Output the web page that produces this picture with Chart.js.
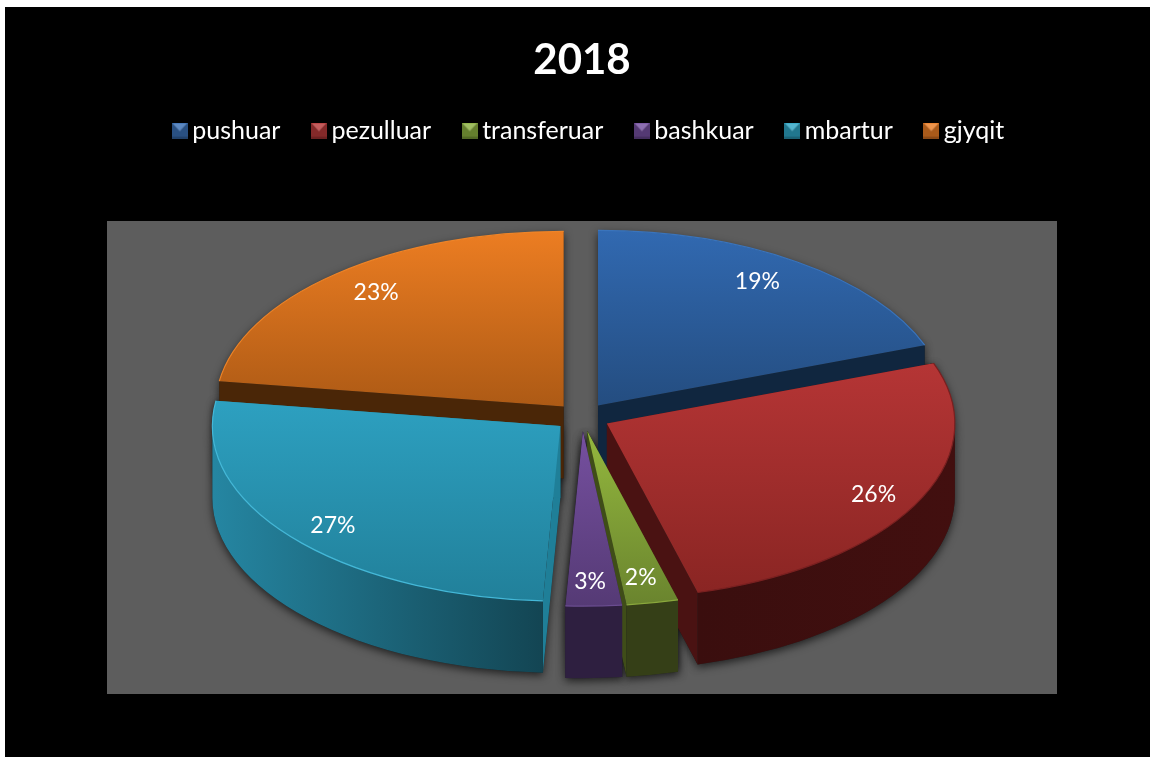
<!DOCTYPE html>
<html>
<head>
<meta charset="utf-8">
<style>html,body{margin:0;padding:0;background:#fff}canvas{display:block}</style>
<script src="https://cdn.jsdelivr.net/npm/chart.js@4/dist/chart.umd.min.js"></script>
</head>
<body>
<canvas id="c" width="1150" height="757"></canvas>
<script>
const titleText = '2018';
const categories = ['pushuar', 'pezulluar', 'transferuar', 'bashkuar', 'mbartur', 'gjyqit'];
const shares = [19.4, 26.4, 2.4, 2.6, 26.5, 22.7];

const topLight = ['#3169b1', '#b53535', '#94b83e', '#7650a0', '#2da0c0', '#ec7d22'];
const topDark  = ['#244d80', '#8a2523', '#6a842e', '#553a75', '#21809a', '#ad5a15'];
const faceCol  = ['#10263f', '#4a1212', '#3f4d18', '#2f2142', '#1f7f98', '#4a2607'];
const wallA    = ['#10263f', '#3a0e0e', '#353f17', '#2e1f40', '#2586a2', '#4a2607'];
const wallB    = ['#10263f', '#420f0f', '#353f17', '#2e1f40', '#134553', '#4a2607'];
const rimCol   = ['#3a74bc', '#7a2020', '#8aa83c', '#6a4c90', '#44b8d8', '#ee8428'];
const legendCol = ['#3a70b5', '#b83a3a', '#8cb040', '#7550a0', '#2fa5c5', '#ea7d25'];
const drawOrder = [0, 5, 1, 4, 2, 3];
const labelNudge = [[-10, -2], [4, 3], [-2, 1], [-2, 2], [1, 5], [6, -1]];

const panel = {left: 107, top: 221, right: 1057, bottom: 694, color: '#5d5d5d'};
const frame = {left: 5, top: 7, color: '#000'};
const tilt = 0.503, depth = 72, burst = 28, labelAt = 0.85, legendShift = 10;

function marker(c) {
  const s = 16, cv = document.createElement('canvas');
  cv.width = s; cv.height = s;
  const x = cv.getContext('2d');
  x.fillStyle = c; x.fillRect(0, 0, s, s);
  x.fillStyle = 'rgba(0,0,0,.28)';
  x.beginPath(); x.moveTo(0, s); x.lineTo(s, s); x.lineTo(s, 0); x.lineTo(s / 2, s / 2); x.lineTo(0, 0); x.closePath(); x.fill();
  x.fillStyle = 'rgba(0,0,0,.18)';
  x.fillRect(0, s - 2, s, 2);
  x.fillStyle = 'rgba(255,255,255,.18)';
  x.beginPath(); x.moveTo(1, 1); x.lineTo(s - 1, 1); x.lineTo(s / 2, s / 2 + 1); x.closePath(); x.fill();
  return cv;
}

class Pie3DController extends Chart.PieController {
  geometry() {
    return this.getMeta().data.map((el, i) => {
      const p = el.getProps(['x', 'y', 'startAngle', 'endAngle', 'outerRadius'], true);
      const mid = (p.startAngle + p.endAngle) / 2;
      const d = el.options.offset;
      const cx = p.x + Math.cos(mid) * d, cy = p.y + Math.sin(mid) * d * tilt;
      return {i, mid, cx, cy, r: p.outerRadius, a0: p.startAngle, a1: p.endAngle, d};
    });
  }
  draw() {
    const ctx = this.chart.ctx;
    const gs = this.geometry();
    const pt = (g, a, dz) => [g.cx + g.r * Math.cos(a), g.cy + g.r * tilt * Math.sin(a) + (dz || 0)];
    const top = (g) => {
      ctx.beginPath(); ctx.moveTo(g.cx, g.cy);
      ctx.ellipse(g.cx, g.cy, g.r, g.r * tilt, 0, g.a0, g.a1);
      ctx.closePath();
    };
    const face = (g, a) => {
      const p = pt(g, a);
      ctx.beginPath(); ctx.moveTo(g.cx, g.cy); ctx.lineTo(p[0], p[1]);
      ctx.lineTo(p[0], p[1] + depth); ctx.lineTo(g.cx, g.cy + depth); ctx.closePath();
    };
    const wall = (g) => {
      const s = Math.max(g.a0, 0), e = Math.min(g.a1, Math.PI);
      if (e <= s) return false;
      ctx.beginPath();
      ctx.ellipse(g.cx, g.cy, g.r, g.r * tilt, 0, s, e);
      ctx.ellipse(g.cx, g.cy + depth, g.r, g.r * tilt, 0, e, s, true);
      ctx.closePath();
      return {x0: pt(g, e)[0], x1: pt(g, s)[0]};
    };

    // soft shadow on the panel
    ctx.save();
    ctx.shadowColor = 'rgba(0,0,0,.65)'; ctx.shadowBlur = 9; ctx.shadowOffsetY = 3;
    ctx.fillStyle = '#222';
    gs.forEach(g => {
      top(g); ctx.fill();
      face(g, g.a0); ctx.fill(); face(g, g.a1); ctx.fill();
      if (wall(g)) ctx.fill();
    });
    ctx.restore();

    drawOrder.forEach(k => {
      const g = gs[k];
      ctx.fillStyle = faceCol[k];
      face(g, g.a0); ctx.fill();
      face(g, g.a1); ctx.fill();
      const w = wall(g);
      if (w) {
        const lg = ctx.createLinearGradient(w.x0, 0, w.x1, 0);
        lg.addColorStop(0, wallA[k]); lg.addColorStop(1, wallB[k]);
        ctx.fillStyle = lg; ctx.fill();
      }
      const ys = [g.cy, pt(g, g.a0)[1], pt(g, g.a1)[1]];
      if (g.a0 < Math.PI / 2 && g.a1 > Math.PI / 2) ys.push(g.cy + g.r * tilt);
      if (g.a0 < -Math.PI / 2 + 1e-6) ys.push(g.cy - g.r * tilt);
      const tg = ctx.createLinearGradient(0, Math.min(...ys), 0, Math.max(...ys));
      tg.addColorStop(0, topLight[k]); tg.addColorStop(1, topDark[k]);
      ctx.fillStyle = tg; top(g); ctx.fill();
      ctx.strokeStyle = rimCol[k]; ctx.lineWidth = 1.2;
      ctx.beginPath(); ctx.ellipse(g.cx, g.cy, g.r, g.r * tilt, 0, g.a0, g.a1); ctx.stroke();
    });

    // percentage labels
    const vals = this.getDataset().data, sum = vals.reduce((a, b) => a + b, 0);
    ctx.save();
    ctx.fillStyle = '#fff';
    ctx.font = '23px Lato';
    ctx.textAlign = 'center'; ctx.textBaseline = 'middle';
    gs.forEach(g => {
      const x = g.cx + g.r * labelAt * Math.cos(g.mid) + labelNudge[g.i][0];
      const y = g.cy + g.r * labelAt * tilt * Math.sin(g.mid) + labelNudge[g.i][1];
      ctx.fillText(Math.round(100 * vals[g.i] / sum) + '%', x, y);
    });
    ctx.restore();
  }
}
Pie3DController.id = 'pie3d';
Chart.register(Pie3DController);

const backdrop = {
  id: 'backdrop',
  afterLayout(chart) {
    chart.legend.left += legendShift;
    chart.legend.right += legendShift;
  },
  beforeDraw(chart) {
    const c = chart.ctx;
    c.save();
    c.fillStyle = '#fff'; c.fillRect(0, 0, chart.width, chart.height);
    c.fillStyle = frame.color; c.fillRect(frame.left, frame.top, chart.width - frame.left, chart.height - frame.top);
    c.fillStyle = panel.color; c.fillRect(panel.left, panel.top, panel.right - panel.left, panel.bottom - panel.top);
    c.restore();
  }
};

new Chart(document.getElementById('c'), {
  type: 'pie3d',
  data: {
    labels: categories,
    datasets: [{data: shares, offset: burst, radius: 348, clip: false, backgroundColor: legendCol, borderWidth: 0}]
  },
  options: {
    responsive: false,
    animation: false,
    events: [],
    layout: {padding: {top: 7, left: 107, right: 93, bottom: 76}},
    plugins: {
      tooltip: {enabled: false},
      title: {display: true, text: titleText, color: '#fff',
              font: {family: 'Lato', size: 42, weight: 'bold', lineHeight: 0.8}, padding: {top: 37, bottom: 2}},
      legend: {
        position: 'top',
        labels: {
          color: '#fff', font: {family: 'Lato', size: 25}, boxWidth: 0.01, usePointStyle: true, padding: 38.5,
          generateLabels: (chart) => categories.map((t, i) => ({
            text: t, index: i, fontColor: '#fff', pointStyle: marker(legendCol[i]),
            fillStyle: legendCol[i], strokeStyle: legendCol[i], lineWidth: 0, hidden: false
          }))
        }
      }
    }
  },
  plugins: [backdrop]
});
</script>
</body>
</html>
